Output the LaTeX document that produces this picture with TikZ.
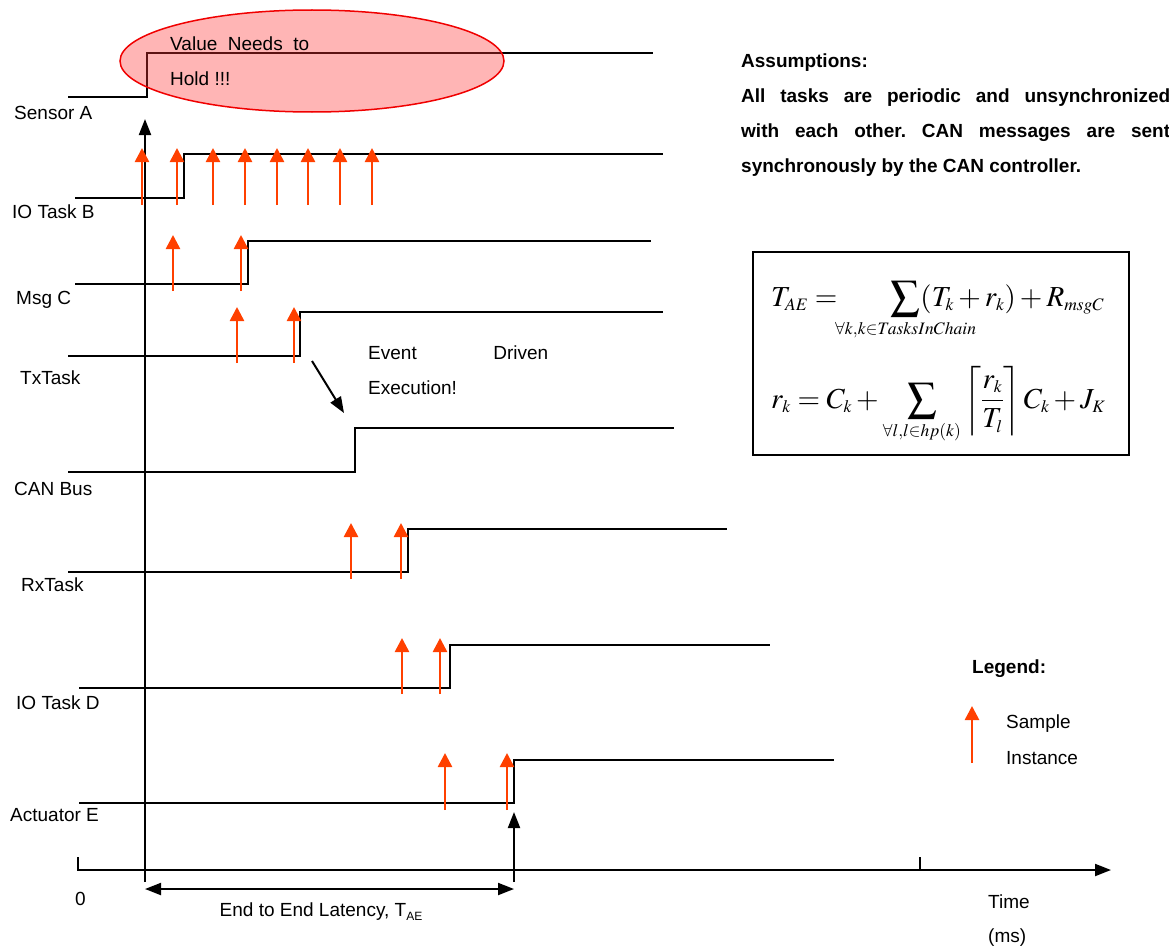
\documentclass[tikz,border=0pt]{standalone}
\usepackage{mathptmx}
\usepackage[no-math]{fontspec}
\setmainfont{Liberation Sans}
\DeclareMathSizes{29}{29}{17.5}{13}
\usetikzlibrary{arrows.meta}
\definecolor{sampc}{RGB}{255,64,0}
\definecolor{holdfill}{RGB}{255,50,50}
\definecolor{holdedge}{RGB}{240,0,0}
\frenchspacing
\begin{document}
\begin{tikzpicture}[x=1pt,y=-1pt,
  sig/.style={line width=1.8pt, line join=miter},
  samp/.style={draw=sampc, line width=2.6pt, -{Triangle[width=14pt,length=14pt]}},
  axisline/.style={line width=2pt, -{Triangle[width=12pt,length=16pt]}},
  lbl/.style={anchor=west, inner sep=0pt, font=\fontsize{19}{22}\selectfont},
  para/.style={anchor=north west, inner sep=0pt, align=left},
  eqn/.style={anchor=base west, inner sep=0pt, font=\fontsize{29}{34}\selectfont}]
\useasboundingbox (0,0) rectangle (1169,950);

% ---- signal lines ----
\draw[sig] (68,97) -- (147,97) -- (147,53) -- (653,53);
\draw[sig] (75,198) -- (184,198) -- (184,154) -- (663,154);
\draw[sig] (75,284) -- (248,284) -- (248,241) -- (651,241);
\draw[sig] (68,356) -- (300,356) -- (300,312) -- (663,312);
\draw[sig] (68,472) -- (355,472) -- (355,428) -- (674,428);
\draw[sig] (68,572) -- (408,572) -- (408,529) -- (727,529);
\draw[sig] (79,688) -- (450,688) -- (450,645) -- (770,645);
\draw[sig] (79,803) -- (514,803) -- (514,760) -- (834,760);

% ---- hold ellipse ----
\filldraw[fill=holdfill, fill opacity=0.36, draw=holdedge, line width=1.5pt]
  (312,61) ellipse [x radius=192pt, y radius=51pt];
\node[para, font=\fontsize{19}{35}\selectfont] (hold) at (170,37)
  {\makebox[139pt][s]{Value Needs to}\\Hold !!!};

% ---- axes ----
\coordinate (vbot) at (145,882);
\coordinate (vtop) at (145,119);
\draw[axisline] (vbot) -- (vtop);
\coordinate (h0) at (78,857);
\coordinate (hc) at (78,870);
\coordinate (hend) at (1111,870);
\draw[axisline] (h0) -- (hc) -- (hend);
\draw[line width=1.5pt] (920,857) -- (920,870);
\coordinate (ebot) at (514,882);
\coordinate (etop) at (514,812);
\draw[line width=2pt, -{Triangle[width=12pt,length=16pt]}] (ebot) -- (etop);
\coordinate (lat1) at (145,889);
\coordinate (lat2) at (514,889);
\draw[line width=2pt, {Triangle[width=12pt,length=16pt]}-{Triangle[width=12pt,length=16pt]}] (lat1) -- (lat2);

% ---- sample arrows ----
\foreach \x in {142,177,213,245,277,308,340,372} \draw[samp] (\x,205) -- (\x,148);
\foreach \x in {173,241} \draw[samp] (\x,291) -- (\x,235);
\foreach \x in {237,294} \draw[samp] (\x,363) -- (\x,307);
\foreach \x in {351,401} \draw[samp] (\x,579) -- (\x,523);
\foreach \x in {402,440} \draw[samp] (\x,694) -- (\x,638);
\foreach \x in {445,507} \draw[samp] (\x,810) -- (\x,753);

% ---- event arrow ----
\coordinate (ev1) at (312,361);
\coordinate (ev2) at (344,413);
\draw[line width=2pt, -{Triangle[width=12pt,length=16pt]}] (ev1) -- (ev2);
\node[para, font=\fontsize{19}{35}\selectfont] (event) at (368,346)
  {\makebox[180pt][s]{Event Driven}\\Execution!};

% ---- row labels ----
\node[lbl] (lA) at (14,113) {Sensor A};
\node[lbl] (lB) at (12,212) {IO Task B};
\node[lbl] (lC) at (16,300) {Msg C};
\node[lbl] (lTx) at (20,378) {TxTask};
\node[lbl] (lCAN) at (14,489) {CAN Bus};
\node[lbl] (lRx) at (21,585) {RxTask};
\node[lbl] (lD) at (16,703) {IO Task D};
\node[lbl] (lE) at (10,815) {Actuator E};
\node[lbl] (zero) at (75,899) {0};
\node[inner sep=0pt, font=\fontsize{19}{22}\selectfont] (lat) at (321,912)
  {End to End Latency, T\raisebox{-4pt}{\fontsize{12}{12}\selectfont AE}};
\node[lbl] (time) at (988,902) {Time};
\node[lbl] (ms) at (988,938) {(ms)};

% ---- assumptions ----
\node[para, font=\bfseries\fontsize{19}{34.7}\selectfont] (assume) at (741,54)
  {Assumptions:\\
   \makebox[429pt][s]{All tasks are periodic and unsynchronized}\\
   \makebox[429pt][s]{with each other. CAN messages are sent}\\
   synchronously by the CAN controller.};

% ---- formula box ----
\node[draw, line width=1.5pt, minimum width=376pt, minimum height=203pt, inner sep=0pt] (box) at (941,353.5) {};
\node[eqn] (eq1) at (771,306)
  {$\displaystyle T_{AE} = \hspace{47pt}\mathop{\sum}\limits_{\makebox[0pt]{$\scriptstyle\forall k,k\in TasksInChain$}}(T_k+r_k)+R_{msgC}$};
\node[eqn] (eq2) at (771,408)
  {$\displaystyle r_k = C_k + \sum_{\forall l,l\in hp(k)}\left\lceil\frac{r_k}{T_l}\right\rceil C_k + J_K$};

% ---- legend ----
\node[lbl, font=\bfseries\fontsize{19}{22}\selectfont] (leg) at (972,669) {Legend:};
\coordinate (lg1) at (972,763);
\coordinate (lg2) at (972,706);
\draw[samp] (lg1) -- (lg2);
\node[lbl] (samp1) at (1006,724) {Sample};
\node[lbl] (samp2) at (1006,758) {Instance};
\end{tikzpicture}
\end{document}
